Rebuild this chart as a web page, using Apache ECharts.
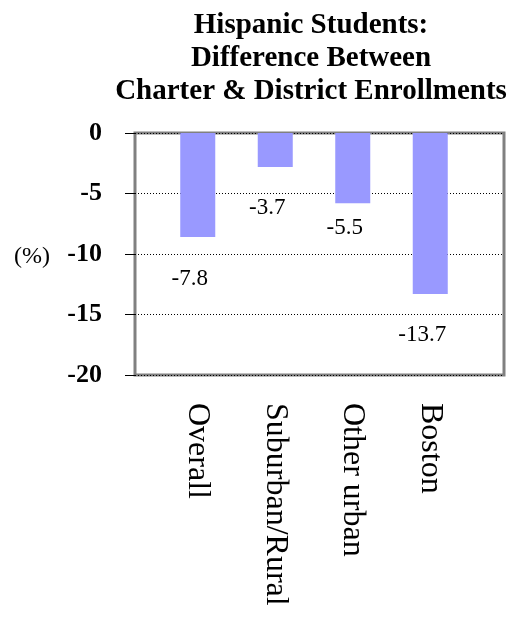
<!DOCTYPE html>
<html>
<head>
<meta charset="utf-8">
<script src="https://cdn.jsdelivr.net/npm/echarts@6/dist/echarts.min.js"></script>
<style>
  html, body { margin: 0; padding: 0; background: #fff; }
  #chart { width: 522px; height: 618px; }
</style>
</head>
<body>
<div id="chart"></div>
<script>
// categories and values
var categories = ["Overall", "Suburban/Rural", "Other urban", "Boston"];
// bar lengths as drawn
var barValues = [-8.6, -2.8, -5.8, -13.3];
// printed labels
var barLabels = ["-7.8", "-3.7", "-5.5", "-13.7"];
var yTicks = [0, -5, -10, -15, -20];

var serif = "'Liberation Serif', 'Times New Roman', serif";
// label gap under each bar (the original is not consistent)
var labelGap = [30, 30, 13, 30];

var myChart = echarts.init(document.getElementById("chart"));

var option = {
  backgroundColor: "#fff",
  animation: false,
  title: {
    text: "Hispanic Students:\nDifference Between\nCharter & District Enrollments",
    left: 306,
    textAlign: "center",
    top: 4,
    textStyle: {
      fontFamily: serif,
      fontWeight: "bold",
      fontSize: 29,
      lineHeight: 33,
      color: "#000"
    }
  },
  graphic: [
    {
      type: "text",
      left: 14,
      top: 245,
      style: {
        text: "(%)",
        fontFamily: serif,
        fontSize: 24,
        fill: "#000"
      }
    }
  ],
  grid: [
    // frame + y axis
    { left: 135, right: 18, top: 133, bottom: 243, show: true, borderColor: "#808080", borderWidth: 3, backgroundColor: "transparent" },
    // bars
    { left: 159, right: 53, top: 133, bottom: 243 }
  ],
  xAxis: [
    { type: "category", gridIndex: 0, data: categories, show: false },
    {
      type: "category",
      gridIndex: 1,
      data: categories,
      axisLine: { show: false },
      axisTick: { show: false },
      axisLabel: {
        rotate: -90,
        margin: 28,
        interval: 0,
        fontFamily: serif,
        fontSize: 32,
        color: "#000"
      }
    }
  ],
  yAxis: [
    {
      type: "value",
      gridIndex: 0,
      min: yTicks[yTicks.length - 1],
      max: yTicks[0],
      interval: 5,
      axisLine: { show: false },
      axisTick: { show: true, length: 10, lineStyle: { color: "#000" } },
      axisLabel: {
        margin: 33,
        fontFamily: serif,
        fontWeight: "bold",
        fontSize: 26,
        color: "#000"
      },
      splitLine: { show: true, lineStyle: { color: "#000", type: [1, 2], width: 1 } }
    },
    { type: "value", gridIndex: 1, min: -20, max: 0, show: false }
  ],
  series: [
    {
      type: "bar",
      xAxisIndex: 1,
      yAxisIndex: 1,
      data: barValues.map(function (v, i) {
        return { value: v, label: { distance: labelGap[i] } };
      }),
      barWidth: 35,
      itemStyle: { color: "#9999FF" },
      label: {
        show: true,
        position: "bottom",
        offset: [-8, 0],
        fontFamily: serif,
        fontSize: 23,
        color: "#000",
        formatter: function (p) {
          return barLabels[p.dataIndex];
        }
      }
    }
  ]
};

myChart.setOption(option);
</script>
</body>
</html>
